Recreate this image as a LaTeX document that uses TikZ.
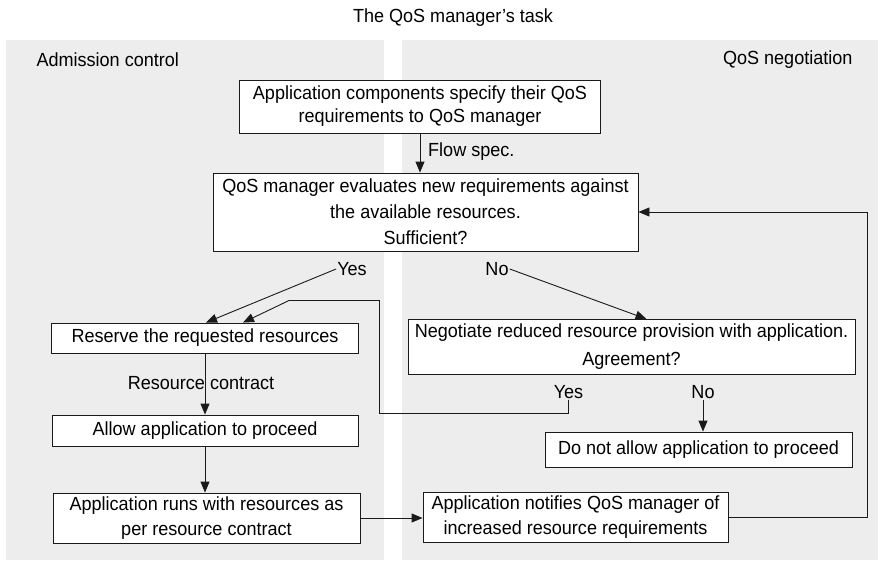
\documentclass[tikz,border=0pt]{standalone}
\usepackage{fontspec}
\setmainfont[FakeStretch=0.95]{Liberation Sans}
\usepackage{tikz}
\usetikzlibrary{positioning,arrows.meta,calc}
\definecolor{mPanel}{HTML}{EDEDED}
\definecolor{mLine}{HTML}{1A1A1A}

\begin{document}
\begin{tikzpicture}[x=1pt,y=-1pt,font=\fontsize{19}{23}\selectfont,
  box/.style={draw=mLine, fill=white, line width=0.9pt, align=center, inner sep=2pt},
  arr/.style={-{Triangle[length=11pt,width=9pt]}, draw=mLine, line width=0.9pt},
  lbl/.style={inner sep=1pt}]
\useasboundingbox (0,0) rectangle (880,562);
% panels
\fill[mPanel] (6,40) rectangle (384,560);
\fill[mPanel] (402,40) rectangle (878,560);
\node (title) at (453,18) {The QoS manager’s task};
\node[anchor=west] (adm) at (33,60) {Admission control};
\node[anchor=east] (negt) at (856,60) {QoS negotiation};
% boxes
\node[box, minimum width=361pt, minimum height=53pt] (spec) at (420,106.5)
  {Application components specify their QoS\\requirements to QoS manager};
\node[box, minimum width=425pt, minimum height=78pt] (eval) at (425.5,212)
  {QoS manager evaluates new requirements against\\[3pt]the available resources.\\[3pt]Sufficient?};
\node[box, minimum width=307pt, minimum height=30pt] (reserve) at (205,338) {Reserve the requested resources};
\node[box, minimum width=447pt, minimum height=55pt] (nego) at (631.5,347)
  {Negotiate reduced resource provision with application.\\[5pt]Agreement?};
\node[box, minimum width=306pt, minimum height=31pt] (allow) at (205,430.5) {Allow application to proceed};
\node[box, minimum width=307pt, minimum height=50pt] (runs) at (206.5,518)
  {Application runs with resources as\\[2pt]per resource contract};
\node[box, minimum width=307pt, minimum height=35pt] (deny) at (698.5,449.5) {Do not allow application to proceed};
\node[box, minimum width=305pt, minimum height=50pt] (notify) at (575.5,517)
  {Application notifies QoS manager of\\[2pt]increased resource requirements};
% labels
\node[lbl, anchor=west] (flow) at (427,152) {Flow spec.};
\node[lbl] (yes) at (352,269) {Yes};
\node[lbl] (no) at (497,269) {No};
\node[lbl] (yesb) at (568.5,392) {Yes};
\node[lbl] (nob) at (703,392) {No};
\node[lbl] (contract) at (201,383) {Resource contract};
% connectors
\draw[arr] (spec.south) -- (spec.south |- eval.north);
\draw[arr] (yes.west) -- ($(reserve.north)+(1,0)$);
\draw[arr] (no.east) -- ($(nego.north)+(15,0)$);
\draw[arr] (yesb.south) |- (379.5,413.5) |- (289,300.5) -- ($(reserve.north)+(38,0)$);
\draw[arr] (nob.south) -- (nob.south |- deny.north);
\draw[arr] (reserve.south) -- (allow.north);
\draw[arr] (allow.south) -- (allow.south |- runs.north);
\draw[arr] (runs.east) -- (runs.east -| notify.west);
\draw[arr] (notify.east) -- (867.5,517) |- (eval.east);
\end{tikzpicture}
\end{document}
